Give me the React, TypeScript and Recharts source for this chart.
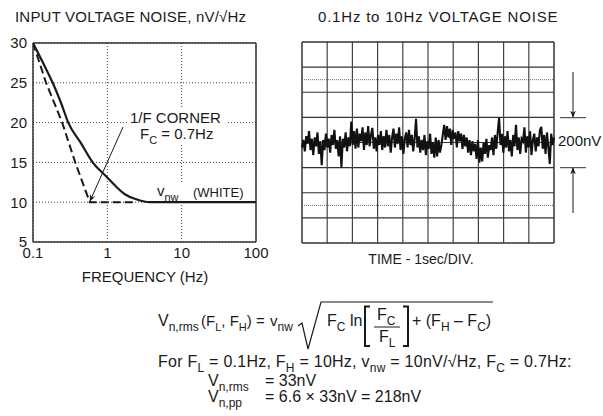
import React from "react";
import { LineChart, Line, XAxis, YAxis, CartesianGrid, ReferenceLine } from "recharts";

// left panel: noise density vs frequency
const freqTicks = [0.1, 1, 10, 100];
const densityTicks = [5, 10, 15, 20, 25, 30];

const totalFreq = [0.1, 0.14, 0.184, 0.24, 0.298, 0.45, 0.625, 1, 1.3, 1.72, 2.5, 3.7, 10, 100];
const totalNoise = [30, 27.3, 25, 22.4, 20, 17.3, 15.1, 13.1, 12, 11, 10.35, 10, 10, 10];

const asymFreq = [0.1, 0.15, 0.247, 0.37, 0.58, 2.3];
const asymNoise = [30, 25, 20, 15, 10, 10];

// right panel: 0.1Hz to 10Hz noise trace, nV, 10 s across
const traceSeconds = 10;
const traceNv = [
  -20, 10, -35, 25, -5, 45, -30, 15, -50, 20, -15, 40, -45, 5, -90, 10, -30, 35, -20, 15,
  -40, 30, -10, 50, -25, 10, -55, 25, -98, 15, -20, 40, -35, 20, -15, 83, -10, 45, -25, 55,
  -20, 35, 5, 60, -30, 40, -10, 65, -15, 30, 58, -25, 20, -35, 30, -10, 45, -30, 25, -20,
  50, -15, 30, -40, 20, 55, -20, 35, -5, 60, -30, 25, -45, 15, 40, -20, 50, -10, 30, -35,
  15, 94, -20, 25, -40, 10, -30, 30, -50, 5, -25, 35, -45, 0, -60, 20, -55, 10, -40, -10,
  30, 70, 10, 65, 20, 55, -10, 50, 15, 40, -20, 45, 5, 35, -25, 30, -15, 20, -40, 10,
  -50, 5, -35, -5, -65, 10, -80, -20, -75, 0, -45, 15, -60, -10, -30, 20, -50, 30, -25, 40,
  98, -10, 35, -40, 25, -20, 45, -35, 10, -55, 30, -15, 70, -30, 20, -45, 15, 5, 60, -40,
  25, -20, 45, -50, 10, 35, -35, 20, -15, 50, 62, -25, 30, -45, 40, -20, -85, 35, -10, 20,
];
const divX = [1, 2, 3, 4, 5, 6, 7, 8, 9];
const divY = [-300, -200, -100, 0, 100, 200, 300];
const dottedY = [-250, 250];

const totalData = totalFreq.map((f, i) => ({ f, v: totalNoise[i] }));
const asymData = asymFreq.map((f, i) => ({ f, v: asymNoise[i] }));
const traceData = traceNv.map((nv, i) => ({ t: (i * traceSeconds) / (traceNv.length - 1), nv }));

const font = "'Liberation Sans', Arial, sans-serif";
const ink = "#1a1a1a";

type Part = [string, string?];

// text with subscripts, built from tspans
function SubText({ x, y, parts, size = 16, subSize = 12, spacing = 0 }: { x: number; y: number; parts: Part[]; size?: number; subSize?: number; spacing?: number }) {
  const out: React.ReactNode[] = [];
  let down = false;
  const drop = size * 0.3;
  parts.forEach(([main, sub], i) => {
    out.push(
      <tspan key={"m" + i} dy={down ? -drop : 0} fontSize={size}>
        {main}
      </tspan>
    );
    down = false;
    if (sub) {
      out.push(
        <tspan key={"s" + i} dy={drop} fontSize={subSize}>
          {sub}
        </tspan>
      );
      down = true;
    }
  });
  return (
    <text x={x} y={y} fill={ink} letterSpacing={spacing} style={{ whiteSpace: "pre" }}>
      {out}
    </text>
  );
}

function DensityChart() {
  return (
    <LineChart width={270} height={290} margin={{ top: 43, right: 14, left: 0, bottom: 0 }}>
      <CartesianGrid stroke="#444" strokeDasharray="1 2" />
      <XAxis
        dataKey="f"
        type="number"
        scale="log"
        domain={[0.1, 100]}
        ticks={freqTicks}
        allowDataOverflow
        axisLine={false}
        tickLine={false}
        tickSize={0}
        tickMargin={5}
        height={48}
        tick={{ fill: ink, fontSize: 15, fontFamily: font }}
        tickFormatter={(v: number) => String(v)}
      />
      <YAxis
        type="number"
        domain={[5, 30]}
        ticks={densityTicks}
        axisLine={false}
        tickLine={false}
        tickSize={0}
        tickMargin={6}
        width={33}
        tick={{ fill: ink, fontSize: 15, fontFamily: font }}
      />
      <ReferenceLine x={0.1} stroke="#333" strokeWidth={1.5} />
      <ReferenceLine x={100} stroke="#333" strokeWidth={1.5} />
      <ReferenceLine y={5} stroke="#333" strokeWidth={1.5} />
      <ReferenceLine y={30} stroke="#333" strokeWidth={1.5} />
      <Line data={asymData} dataKey="v" type="linear" stroke={ink} strokeWidth={2} strokeDasharray="8 4" dot={false} isAnimationActive={false} />
      <Line data={totalData} dataKey="v" type="monotone" stroke={ink} strokeWidth={2.2} dot={false} isAnimationActive={false} />
    </LineChart>
  );
}

function TraceChart() {
  return (
    <LineChart width={264} height={245} data={traceData} margin={{ top: 42, right: 5, left: 7, bottom: 2 }}>
      <XAxis dataKey="t" type="number" domain={[0, traceSeconds]} hide />
      <YAxis type="number" domain={[-400, 400]} hide />
      {dottedY.map((y) => (
        <ReferenceLine key={"d" + y} y={y} stroke="#666" strokeDasharray="1 1" />
      ))}
      {divY.map((y) => (
        <ReferenceLine key={"h" + y} y={y} stroke="#333" strokeWidth={1.2} />
      ))}
      {divX.map((x) => (
        <ReferenceLine key={"v" + x} x={x} stroke="#444" strokeWidth={1.2} />
      ))}
      <ReferenceLine x={0} stroke="#333" strokeWidth={1.5} />
      <ReferenceLine x={traceSeconds} stroke="#333" strokeWidth={1.5} />
      <ReferenceLine y={-400} stroke="#333" strokeWidth={1.5} />
      <ReferenceLine y={400} stroke="#333" strokeWidth={1.5} />
      <Line dataKey="nv" type="linear" stroke="#111" strokeWidth={2.1} dot={false} isAnimationActive={false} />
    </LineChart>
  );
}

export default function App() {
  return (
    <div style={{ position: "absolute", left: 0, top: 0, width: 603, height: 416, background: "#fff", fontFamily: font }}>
      <div style={{ position: "absolute", left: 0, top: 0 }}>
        <DensityChart />
      </div>
      <div style={{ position: "absolute", left: 295, top: 0 }}>
        <TraceChart />
      </div>
      <svg width={603} height={416} style={{ position: "absolute", left: 0, top: 0, pointerEvents: "none" }} fontFamily={font}>
        <defs>
          <marker id="head" viewBox="0 0 10 10" refX="9" refY="5" markerWidth="7" markerHeight="7" orient="auto-start-reverse">
            <path d="M0,1 L10,5 L0,9 L3,5 Z" fill={ink} />
          </marker>
        </defs>

        <text x={15} y={22} fontSize={15} letterSpacing={0.2} fill={ink}>INPUT VOLTAGE NOISE, nV/√Hz</text>
        <text x={318} y={22} fontSize={15} letterSpacing={0.8} fill={ink}>0.1Hz to 10Hz VOLTAGE NOISE</text>
        <text x={145} y={282} fontSize={15} fill={ink} textAnchor="middle">FREQUENCY (Hz)</text>
        <text x={421} y={264} fontSize={14} fill={ink} textAnchor="middle">TIME - 1sec/DIV.</text>

        {/* corner annotation */}
        <rect x={127} y={108} width={99} height={37} fill="#fff" />
        <text x={130} y={123} fontSize={15} fill={ink}>1/F CORNER</text>
        <SubText x={140} y={139} size={15} subSize={11} parts={[["F", "C"], [" = 0.7Hz"]]} />
        <line x1={123} y1={127} x2={90} y2={201} stroke={ink} strokeWidth={1} markerEnd="url(#head)" />
        <rect x={154} y={184} width={92} height={16} fill="#fff" />
        <SubText x={157} y={196} size={15} subSize={11} parts={[["v", "nw"]]} />
        <text x={193} y={197} fontSize={13} fill={ink}>(WHITE)</text>

        {/* 200nV marker */}
        <line x1={560} y1={117.7} x2={586} y2={117.7} stroke="#333" strokeWidth={1} />
        <line x1={560} y1={167.7} x2={586} y2={167.7} stroke="#333" strokeWidth={1} />
        <line x1={573} y1={72} x2={573} y2={117} stroke={ink} strokeWidth={1} markerEnd="url(#head)" />
        <line x1={573} y1={213} x2={573} y2={168} stroke={ink} strokeWidth={1} markerEnd="url(#head)" />
        <text x={558} y={146} fontSize={15} fill={ink}>200nV</text>

        {/* formula */}
        <SubText x={158} y={326} parts={[["V", "n,rms"]]} />
        <SubText x={201} y={326} size={15} subSize={11} parts={[["(F", "L"], [", F", "H"], [") ="]]} />
        <SubText x={270} y={326} size={15} parts={[["v", "nw"]]} />
        <path d="M298,326 L302,323 L308,349 L321,302 L493,302" fill="none" stroke={ink} strokeWidth={1.2} />
        <SubText x={327} y={326} parts={[["F", "C"], [" ln"]]} />
        <path d="M370,306.5 L365,306.5 L365,346 L370,346" fill="none" stroke={ink} strokeWidth={2} />
        <SubText x={377} y={320} parts={[["F", "C"]]} />
        <line x1={374} y1={327} x2={400} y2={327} stroke={ink} strokeWidth={1} />
        <SubText x={379} y={342} parts={[["F", "L"]]} />
        <path d="M403,306.5 L408,306.5 L408,346 L403,346" fill="none" stroke={ink} strokeWidth={2} />
        <SubText x={412} y={326} parts={[["+ (F", "H"], [" – F", "C"], [")"]]} />

        <SubText x={158} y={367} spacing={0.25} parts={[["For F", "L"], [" = 0.1Hz, F", "H"], [" = 10Hz, v", "nw"], [" = 10nV/√Hz, F", "C"], [" = 0.7Hz:"]]} />
        <SubText x={208} y={386} parts={[["V", "n,rms"]]} />
        <text x={265} y={386} fontSize={16} fill={ink}>= 33nV</text>
        <SubText x={208} y={402} parts={[["V", "n,pp"]]} />
        <text x={265} y={402} fontSize={16} fill={ink}>= 6.6 × 33nV = 218nV</text>
      </svg>
    </div>
  );
}
